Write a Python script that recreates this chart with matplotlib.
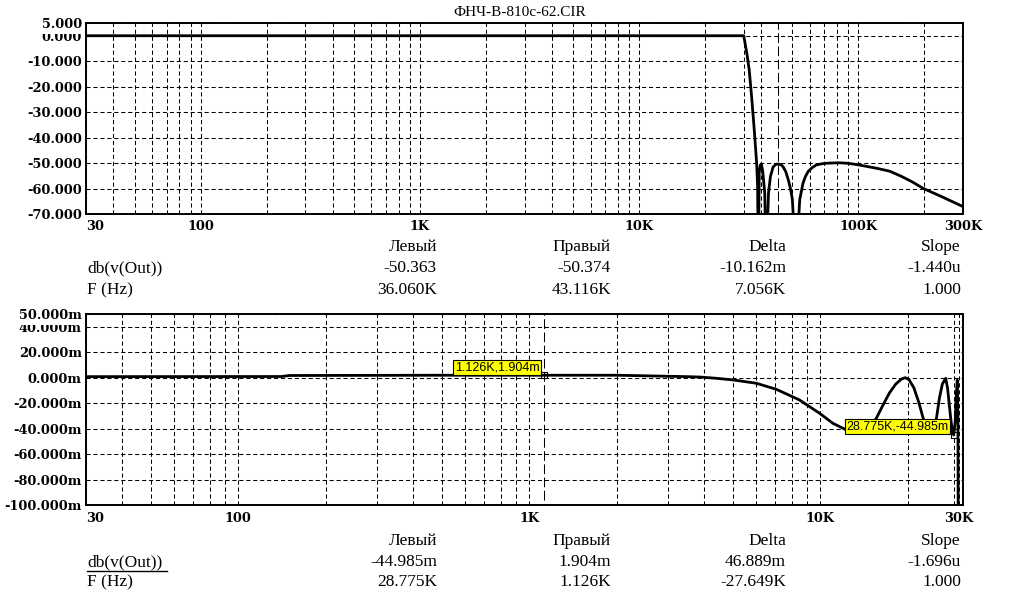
import matplotlib
matplotlib.use('Agg')
import matplotlib.pyplot as plt
from matplotlib.lines import Line2D
from matplotlib.ticker import NullFormatter

plt.rcParams['lines.scale_dashes'] = False

title = 'ФНЧ-В-810с-62.CIR'

# top plot: db(v(Out)) vs F, 30 Hz .. 300 kHz
top_freq = [30, 30000, 31000, 31770, 32580, 33500, 34350, 34700, 34950, 35300, 35700, 36060,
            36600, 37400, 37950, 38900, 39700, 40800, 42000, 43116, 44300, 45400, 46700, 47900,
            49000, 50000, 51900, 54000, 55900, 57400, 59000, 61500, 64400, 69000, 74000, 82300,
            90000, 98300, 109000, 122000, 139000, 157000, 177000, 197000, 240000, 300000]
top_db = [0.0, 0.0, -7.0, -13.4, -23.9, -37.0, -50.0, -59.2, -90.0, -53.5, -50.8, -50.363,
          -53.0, -61.8, -90.0, -61.8, -55.3, -51.6, -50.5, -50.374, -50.6, -51.5, -53.5, -56.6,
          -60.0, -64.4, -90.0, -64.4, -57.9, -55.2, -53.3, -51.8, -50.7, -50.2, -50.0, -49.9,
          -50.1, -50.6, -51.3, -52.1, -53.2, -55.2, -57.5, -59.9, -63.2, -67.1]

# bottom plot: db(v(Out)) in milli-dB, 30 Hz .. 30 kHz
bot_freq = [30, 141, 150, 500, 1126, 2000, 2350, 3000, 3490, 3864, 4400, 5030, 6040, 7080,
            8490, 9960, 11070, 12000, 12300, 13000, 13700, 14400, 15000, 15600, 16400, 17300,
            18200, 19000, 19600, 20200, 21000, 21800, 22600, 23200, 23700, 24300, 25100, 25700,
            26300, 27000, 27400, 28100, 28450, 28775, 29100, 29400, 29600, 29750, 29850]
bot_mdb = [0.8, 0.9, 1.7, 1.9, 1.904, 1.9, 1.6, 1.1, 0.8, 0.5, -0.5, -1.8, -4.4, -9.2,
           -17.5, -28.0, -35.9, -39.8, -41.0, -42.6, -43.0, -41.5, -37.5, -31.9, -22.0, -12.0,
           -5.0, -1.2, 0.0, -1.5, -8.0, -19.0, -31.9, -40.5, -43.0, -40.5, -31.9, -16.0,
           -5.0, -0.5, -8.0, -31.9, -42.0, -44.985, -35.0, -12.0, -2.0, -30.0, -160.0]

top_xticks = [30, 100, 1e3, 1e4, 1e5, 3e5]
top_xlabels = ['30', '100', '1K', '10K', '100K', '300K']
top_xminor = [40, 50, 60, 70, 80, 90, 200, 300, 400, 500, 600, 700, 800, 900,
              2e3, 3e3, 4e3, 5e3, 6e3, 7e3, 8e3, 9e3, 2e4, 3e4, 5e4, 6e4, 7e4, 8e4, 9e4, 2e5]
top_yticks = [0, -10, -20, -30, -40, -50, -60, -70, 5]
top_ylabels = ['0.000', '-10.000', '-20.000', '-30.000', '-40.000', '-50.000', '-60.000',
               '-70.000', '5.000']

bot_xticks = [30, 100, 1e3, 1e4, 3e4]
bot_xlabels = ['30', '100', '1K', '10K', '30K']
bot_xminor = [40, 50, 60, 70, 80, 90, 200, 300, 400, 500, 600, 700, 800, 900,
              2e3, 3e3, 4e3, 5e3, 6e3, 7e3, 8e3, 9e3, 2e4]
bot_yticks = [40, 20, 0, -20, -40, -60, -80, -100, 50]
bot_ylabels = ['40.000m', '20.000m', '0.000m', '-20.000m', '-40.000m', '-60.000m',
               '-80.000m', '-100.000m', '50.000m']

# cursor readouts
cols = ['Левый', 'Правый', 'Delta', 'Slope']
top_row_db = ['-50.363', '-50.374', '-10.162m', '-1.440u']
top_row_f = ['36.060K', '43.116K', '7.056K', '1.000']
bot_row_db = ['-44.985m', '1.904m', '46.889m', '-1.696u']
bot_row_f = ['28.775K', '1.126K', '-27.649K', '1.000']

top_cursors = [36060, 43116]
bot_cursors = [28775, 1126]
bot_cursor_vals = [-44.985, 1.904]
bot_cursor_text = ['28.775K,-44.985m', '1.126K,1.904m']

W, H = 1012, 603
fig = plt.figure(figsize=(W / 100, H / 100), dpi=100)
tick_font = dict(family='DejaVu Serif', weight='bold', size=9.3)
grid_ls = (0, (3, 2))


def px(x, y):
    return x / W, 1 - y / H


def setup(ax, xlim, ylim, xt, xl, xm, yt, yl, xpad):
    ax.set_xscale('log')
    ax.set_xlim(xlim)
    ax.set_ylim(ylim)
    ax.set_xticks(xt, xl)
    ax.set_xticks(xm, minor=True)
    ax.xaxis.set_minor_formatter(NullFormatter())
    ax.set_yticks(yt, yl)
    ax.tick_params(which='both', length=0)
    ax.tick_params(axis='x', pad=xpad)
    ax.tick_params(axis='y', pad=3)
    ax.grid(which='both', color='black', lw=0.75, ls=grid_ls)
    for s in ax.spines.values():
        s.set_linewidth(1.4)
    for lab in ax.get_xticklabels() + ax.get_yticklabels():
        lab.set_fontproperties(tick_font)
    ax.get_xticklabels()[0].set_ha('left')
    ylabs = ax.get_yticklabels()
    for lab in ylabs:
        lab.set_bbox(dict(facecolor='white', edgecolor='none', pad=0.5))
    # the top label sits a little higher and hides the top of the one below
    ylabs[-1].set_bbox(dict(facecolor='white', edgecolor='none', pad=2.5))
    ylabs[-1].set_va('center_baseline')


ax1 = fig.add_axes([86 / W, 1 - 214 / H, 877 / W, 191 / H])
setup(ax1, (30, 3e5), (-70, 5), top_xticks, top_xlabels, top_xminor,
      top_yticks, top_ylabels, 4.5)
ax1.plot(top_freq, top_db, color='black', lw=2.0)
ax1.axvline(top_cursors[0], color='black', lw=0.75, ls=grid_ls)
ax1.axvline(top_cursors[1], color='black', lw=0.75, ls=(0, (7, 2.5)))

ax2 = fig.add_axes([86 / W, 1 - 505 / H, 877 / W, 191 / H])
setup(ax2, (30, 30970), (-100, 50), bot_xticks, bot_xlabels, bot_xminor,
      bot_yticks, bot_ylabels, 5)
ax2.plot(bot_freq, bot_mdb, color='black', lw=2.0)
ax2.axvline(bot_cursors[0], color='black', lw=0.75, ls=grid_ls)
ax2.vlines(bot_cursors[1], -96, 50, color='black', lw=0.75, ls=(0, (7, 2.5)))
for f, v, t in zip(bot_cursors, bot_cursor_vals, bot_cursor_text):
    ax2.plot([f], [v], marker='s', ms=5, mfc='none', mec='black', mew=0.8)
    ax2.annotate(t, xy=(f, v), xytext=(-3.5, 1.5), textcoords='offset points',
                 ha='right', va='bottom', family='Liberation Sans', fontsize=9,
                 bbox=dict(boxstyle='square,pad=0.12', fc='yellow', ec='black', lw=0.8))

fig.text(*px(520, 12), title, ha='center', va='center', family='Liberation Serif', fontsize=11)

col_x = [437, 611, 786, 961]
tbl_font = dict(family='Liberation Serif', fontsize=12.5)
for base, rdb, rf in [(247, top_row_db, top_row_f), (541, bot_row_db, bot_row_f)]:
    ys = [base, base + 21, base + 43] if base < 400 else [base, base + 21, base + 41]
    fig.text(*px(87, ys[1]), 'db(v(Out))', ha='left', va='center', **tbl_font)
    fig.text(*px(87, ys[2]), 'F (Hz)', ha='left', va='center', **tbl_font)
    for x, c, a, b in zip(col_x, cols, rdb, rf):
        fig.text(*px(x, ys[0]), c, ha='right', va='center', **tbl_font)
        fig.text(*px(x, ys[1]), a, ha='right', va='center', **tbl_font)
        fig.text(*px(x, ys[2]), b, ha='right', va='center', **tbl_font)

# underline of the selected curve name in the bottom readout
fig.add_artist(Line2D([87 / W, 167 / W], [1 - 571 / H] * 2, transform=fig.transFigure,
                      color='black', lw=1))

fig.savefig('out.png', dpi=100)
